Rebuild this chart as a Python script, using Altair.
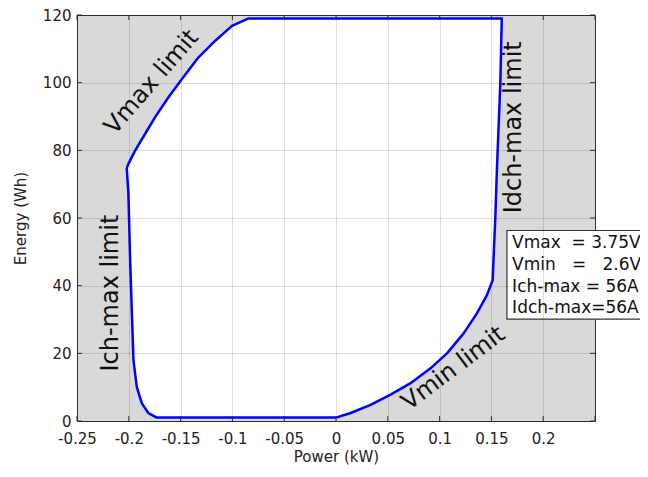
import altair as alt
import pandas as pd

# Boundary of the operating region (traced in order, closed)
# Ich-max limit (left, from the kink downwards), then bottom, Vmin limit,
# Idch-max limit, top, Vmax limit back to the kink.
bnd_x = [-0.202, -0.2004, -0.1987, -0.1971, -0.1955, -0.1923, -0.1874, -0.181, -0.173,
         0.0, 0.0135, 0.0329, 0.0522, 0.0716, 0.0909, 0.1071, 0.1232, 0.136, 0.1457, 0.1512,
         0.1538, 0.1554, 0.1586, 0.160,
         -0.0843, -0.1004, -0.1165, -0.1327, -0.1487, -0.1617, -0.1746, -0.1842, -0.1939,
         -0.2004, -0.202]
bnd_y = [74.8, 67.2, 47.5, 32.7, 18.0, 10.1, 5.2, 2.3, 1.0,
         1.0, 2.3, 4.7, 7.7, 11.1, 15.5, 20.0, 25.9, 31.8, 37.2, 41.6,
         60.3, 75.0, 99.6, 119.0,
         119.0, 116.8, 112.4, 107.5, 101.1, 95.7, 89.8, 84.9, 79.9,
         76.0, 74.8]

x_ticks = [-0.25, -0.2, -0.15, -0.1, -0.05, 0, 0.05, 0.1, 0.15, 0.2]
x_tick_marks = [-0.25, -0.2, -0.15, -0.1, -0.05, 0, 0.05, 0.1, 0.15, 0.2, 0.25]
y_ticks = [0, 20, 40, 60, 80, 100, 120]

ann_text = ["Vmax limit", "Idch-max limit", "Ich-max limit", "Vmin limit"]
ann_x = [-0.1778, 0.172, -0.217, 0.1135]
ann_y = [100.1, 86.8, 37.8, 15.5]
ann_angle = [311, 270, 270, 323]

leg_lines = ["Vmax\u00a0\u00a0=\u00a03.75V", "Vmin\u00a0\u00a0\u00a0=\u00a0\u00a0\u00a02.6V",
             "Ich-max\u00a0=\u00a056A", "Idch-max=56A"]
leg_y = [52.6, 46.0, 39.6, 33.3]
leg_x = 0.170
box_x = [0.165]
box_x2 = [0.31]
box_y = [56.3]
box_y2 = [30.1]

W, H = 518, 406
FONT = "DejaVu Sans"

xs = alt.Scale(domain=[-0.25, 0.25], nice=False, zero=False)
ys = alt.Scale(domain=[0, 120], nice=False, zero=False)

bdf = pd.DataFrame({"x": bnd_x, "y": bnd_y, "i": list(range(len(bnd_x)))})

region = alt.Chart(bdf).mark_line(
    fill="white", stroke="#0000ff", strokeWidth=2.5, strokeJoin="round"
).encode(
    x=alt.X("x:Q", scale=xs,
            axis=alt.Axis(values=x_ticks, labelExpr="toString(datum.value)",
                          title="Power (kW)", grid=True, ticks=False, domain=False,
                          labelOverlap=False, labelFlush=False, labelPadding=10,
                          titlePadding=3, zindex=1)),
    y=alt.Y("y:Q", scale=ys,
            axis=alt.Axis(values=y_ticks, title="Energy (Wh)", grid=True,
                          ticks=False, domain=False, labelOverlap=False,
                          labelFlush=False, labelPadding=6, titlePadding=14,
                          zindex=1)),
    order="i:Q",
)

adf = pd.DataFrame({"t": ann_text, "x": ann_x, "y": ann_y, "a": ann_angle})
ann_layers = []
for _, r in adf.iterrows():
    ann_layers.append(
        alt.Chart(pd.DataFrame([r])).mark_text(
            font=FONT, fontSize=24, color="#111", angle=int(r["a"]),
            align="center", baseline="middle"
        ).encode(x=alt.X("x:Q", scale=xs), y=alt.Y("y:Q", scale=ys), text="t:N")
    )

bx = pd.DataFrame({"x": box_x, "x2": box_x2, "y": box_y, "y2": box_y2})
box = alt.Chart(bx).mark_rect(fill="white", stroke="#333", strokeWidth=1.2).encode(
    x=alt.X("x:Q", scale=xs), x2="x2:Q", y=alt.Y("y:Q", scale=ys), y2="y2:Q"
)
ldf = pd.DataFrame({"t": leg_lines, "y": leg_y, "x": [leg_x] * len(leg_lines)})
leg = alt.Chart(ldf).mark_text(
    font=FONT, fontSize=17, color="#111", align="left", baseline="middle"
).encode(x=alt.X("x:Q", scale=xs), y=alt.Y("y:Q", scale=ys), text="t:N")

txdf = pd.DataFrame({"x": x_tick_marks})
tydf = pd.DataFrame({"y": y_ticks})
tick_b = alt.Chart(txdf).mark_rule(color="#333").encode(
    x=alt.X("x:Q", scale=xs), y=alt.value(H), y2=alt.value(H - 5))
tick_t = alt.Chart(txdf).mark_rule(color="#333").encode(
    x=alt.X("x:Q", scale=xs), y=alt.value(0), y2=alt.value(5))
tick_l = alt.Chart(tydf).mark_rule(color="#333").encode(
    y=alt.Y("y:Q", scale=ys), x=alt.value(0), x2=alt.value(5))
tick_r = alt.Chart(tydf).mark_rule(color="#333").encode(
    y=alt.Y("y:Q", scale=ys), x=alt.value(W), x2=alt.value(W - 5))

chart = alt.layer(
    region, tick_b, tick_t, tick_l, tick_r, *ann_layers, box, leg
).properties(
    width=W, height=H,
    autosize=alt.AutoSizeParams(type="none"),
    padding={"left": 69, "top": 7, "right": 45, "bottom": 44},
).configure_view(
    fill="#d9d9d9", stroke="#333", strokeWidth=1
).configure_axis(
    labelFont=FONT, titleFont=FONT, labelFontSize=15, titleFontSize=15,
    labelColor="#222", titleColor="#222", titleFontWeight="normal",
    gridColor="#000", gridOpacity=0.12, gridWidth=1
)

chart.save("out.html", embed_options={"renderer": "svg", "actions": False})
